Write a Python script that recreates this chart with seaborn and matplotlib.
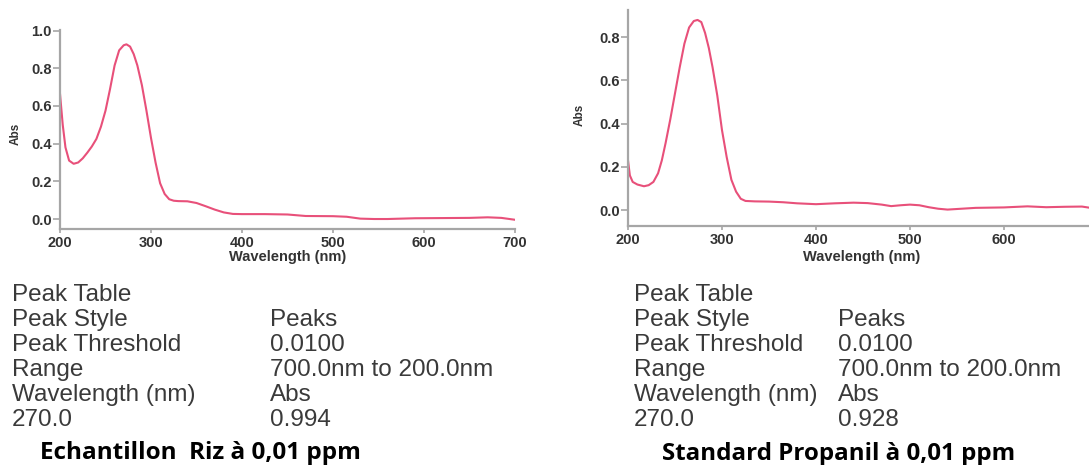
import matplotlib
matplotlib.use("Agg")
import matplotlib.pyplot as plt
import seaborn as sns
import pandas as pd
from matplotlib.ticker import FormatStrFormatter, MultipleLocator

# ---------------- data ----------------
wl_riz = [200, 203, 206, 210, 215, 220, 225, 230, 235, 240, 245, 250, 255, 260, 265,
          270, 273, 277, 281, 285, 290, 295, 300, 305, 310, 315, 320, 325, 330, 340,
          350, 360, 370, 380, 390, 400, 425, 450, 470, 500, 515, 530, 545, 560, 590,
          620, 650, 670, 685, 700]
abs_riz = [0.665, 0.50, 0.38, 0.31, 0.293, 0.30, 0.322, 0.352, 0.385, 0.425, 0.49, 0.575,
           0.69, 0.815, 0.895, 0.922, 0.927, 0.915, 0.875, 0.815, 0.71, 0.575, 0.43, 0.30,
           0.19, 0.133, 0.105, 0.097, 0.095, 0.094, 0.085, 0.068, 0.050, 0.035, 0.027,
           0.026, 0.026, 0.024, 0.016, 0.015, 0.012, 0.002, 0.0, 0.0, 0.004, 0.005, 0.006,
           0.009, 0.006, -0.004]

wl_std = [200, 202, 205, 210, 217, 222, 227, 232, 236, 240, 245, 250, 255, 260, 265,
          270, 274, 278, 282, 286, 290, 295, 300, 305, 310, 315, 320, 325, 335, 350,
          365, 380, 400, 420, 440, 455, 470, 480, 490, 500, 510, 520, 530, 540, 555,
          570, 600, 625, 645, 665, 683, 692, 700]
abs_std = [0.23, 0.16, 0.13, 0.118, 0.11, 0.115, 0.13, 0.17, 0.23, 0.31, 0.42, 0.54, 0.66,
           0.77, 0.845, 0.875, 0.88, 0.87, 0.82, 0.75, 0.66, 0.53, 0.37, 0.245, 0.14, 0.085,
           0.052, 0.042, 0.04, 0.039, 0.036, 0.031, 0.027, 0.031, 0.034, 0.032, 0.025,
           0.018, 0.022, 0.025, 0.022, 0.013, 0.006, 0.002, 0.006, 0.01, 0.012, 0.017,
           0.013, 0.015, 0.016, 0.01, 0.008]

table_labels = ["Peak Table", "Peak Style", "Peak Threshold", "Range",
                "Wavelength (nm)", "270.0"]
riz_values = ["", "Peaks", "0.0100", "700.0nm to 200.0nm", "Abs", "0.994"]
std_values = ["", "Peaks", "0.0100", "700.0nm to 200.0nm", "Abs", "0.928"]
riz_caption = "Echantillon  Riz à 0,01 ppm"
std_caption = "Standard Propanil à 0,01 ppm"
x_label = "Wavelength (nm)"
y_label = "Abs"

# ---------------- style ----------------
sns.set_style("ticks")
plt.rcParams["font.family"] = ["Liberation Sans", "DejaVu Sans"]

W, H = 1089, 465
fig = plt.figure(figsize=(W / 100, H / 100), dpi=100)

LINE = "#e8507a"
SPINE = "#a6a6a6"
TXT = "#333333"


def px_axes(x0, y_top, x1, y_bot):
    return fig.add_axes([x0 / W, (H - y_bot) / H, (x1 - x0) / W, (y_bot - y_top) / H])


ax1 = px_axes(60, 30, 515, 229)
ax2 = px_axes(628, 10, 1089, 226)

df_riz = pd.DataFrame({"wl": wl_riz, "abs": abs_riz})
df_std = pd.DataFrame({"wl": wl_std, "abs": abs_std})

sns.lineplot(data=df_riz, x="wl", y="abs", ax=ax1, color=LINE, lw=1.5)
sns.lineplot(data=df_std, x="wl", y="abs", ax=ax2, color=LINE, lw=1.5)

ax1.set_xlim(200, 700)
ax1.set_ylim(-0.053, 1.003)
ax2.set_xlim(200, 690.5)
ax2.set_ylim(-0.074, 0.926)

label_pos = {ax1: ((288 - 60) / 455, (229 - 257) / 199, (15.5 - 60) / 455, (229 - 134) / 199),
             ax2: ((862 - 628) / 461, (226 - 257) / 216, (580 - 628) / 461, (226 - 115) / 216)}

for ax in (ax1, ax2):
    sns.despine(ax=ax)
    for s in ("left", "bottom"):
        ax.spines[s].set_color(SPINE)
        ax.spines[s].set_linewidth(1.6)
    ax.xaxis.set_major_locator(MultipleLocator(100))
    ax.yaxis.set_major_locator(MultipleLocator(0.2))
    ax.xaxis.set_major_formatter(FormatStrFormatter("%d"))
    ax.yaxis.set_major_formatter(FormatStrFormatter("%.1f"))
    ax.tick_params(axis="y", length=5, width=1.2, color=SPINE, pad=1,
                   labelsize=10.5, labelcolor=TXT)
    ax.tick_params(axis="x", length=3, width=1.2, color=SPINE, pad=2,
                   labelsize=10.5, labelcolor=TXT)
    for lab in ax.get_xticklabels() + ax.get_yticklabels():
        lab.set_fontweight("bold")
    ax.set_xlabel(x_label, fontsize=10.5, fontweight="bold", color=TXT)
    ax.set_ylabel(y_label, fontsize=8.5, fontweight="bold", color=TXT)
    lx, ly, yx, yy = label_pos[ax]
    ax.xaxis.set_label_coords(lx, ly)
    ax.xaxis.label.set_va("center")
    ax.yaxis.set_label_coords(yx, yy)
    ax.yaxis.label.set_va("center")
    ax.set_facecolor("white")

# ---------------- peak tables ----------------
row_y = [295, 320, 345, 370, 395, 420]


def ftext(x, y, s, **kw):
    return fig.text(x / W, 1 - y / H, s, va="center", ha="left", **kw)


for (c1, c2, vals) in ((12, 270, riz_values), (634, 838, std_values)):
    for y, lab, val in zip(row_y, table_labels, vals):
        ftext(c1, y, lab, fontsize=17.5, family="Liberation Sans", color="#3a3a3a")
        if val:
            ftext(c2, y, val, fontsize=17.5, family="Liberation Sans", color="#3a3a3a")

# ---------------- captions (size fitted to target width) ----------------
renderer = fig.canvas.get_renderer()


def fit_caption(x0, x1, y, s):
    t = ftext(x0, y, s, fontsize=14, family="Open Sans", fontweight="bold", color="black")
    w = t.get_window_extent(renderer).width
    t.set_fontsize(14 * (x1 - x0) / w)
    return t


fit_caption(40, 362, 453, riz_caption)
fit_caption(662, 1018, 454, std_caption)

fig.savefig("out.png", dpi=100, facecolor="white")
